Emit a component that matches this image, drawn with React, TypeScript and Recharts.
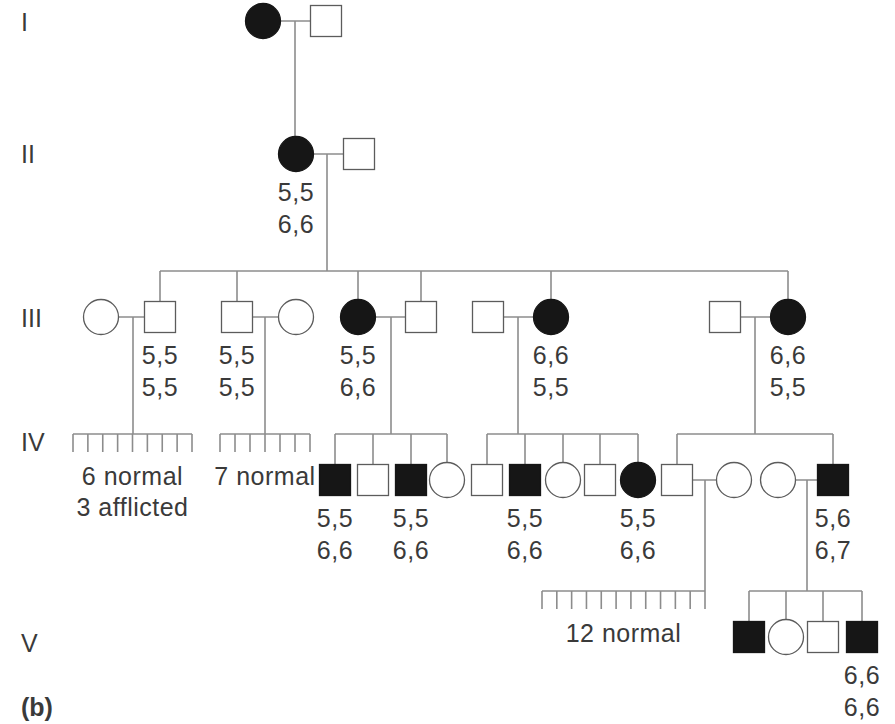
import React from 'react'
import { Scatter, ScatterChart, XAxis, YAxis } from 'recharts'

type Sex = 'F' | 'M'
interface Person {
  id: string
  gen: number
  x: number
  sex: Sex
  affected?: boolean
  typing?: string[]
}
interface Family {
  parents: [string, string]
  descentX: number
  children?: string[]
  unnamed?: { count: number; from: number; to: number; text: string[] }
}

// generation rows
const generationY = [21, 154, 317, 480, 637]
const sibshipY: (number | null)[] = [null, null, 271, 434, 591]
const rowTicks = [22, 154, 318, 442, 643, 707]
const rowLabels = ['I', 'II', 'III', 'IV', 'V', '(b)']

const people: Person[] = [
  { id: 'I-1', gen: 0, x: 263, sex: 'F', affected: true },
  { id: 'I-2', gen: 0, x: 326, sex: 'M' },
  { id: 'II-1', gen: 1, x: 296, sex: 'F', affected: true, typing: ['5,5', '6,6'] },
  { id: 'II-2', gen: 1, x: 359, sex: 'M' },
  { id: 'III-1', gen: 2, x: 101, sex: 'F' },
  { id: 'III-2', gen: 2, x: 160, sex: 'M', typing: ['5,5', '5,5'] },
  { id: 'III-3', gen: 2, x: 237, sex: 'M', typing: ['5,5', '5,5'] },
  { id: 'III-4', gen: 2, x: 296, sex: 'F' },
  { id: 'III-5', gen: 2, x: 358, sex: 'F', affected: true, typing: ['5,5', '6,6'] },
  { id: 'III-6', gen: 2, x: 421, sex: 'M' },
  { id: 'III-7', gen: 2, x: 488, sex: 'M' },
  { id: 'III-8', gen: 2, x: 551, sex: 'F', affected: true, typing: ['6,6', '5,5'] },
  { id: 'III-9', gen: 2, x: 725, sex: 'M' },
  { id: 'III-10', gen: 2, x: 788, sex: 'F', affected: true, typing: ['6,6', '5,5'] },
  { id: 'IV-1', gen: 3, x: 335, sex: 'M', affected: true, typing: ['5,5', '6,6'] },
  { id: 'IV-2', gen: 3, x: 373, sex: 'M' },
  { id: 'IV-3', gen: 3, x: 411, sex: 'M', affected: true, typing: ['5,5', '6,6'] },
  { id: 'IV-4', gen: 3, x: 447, sex: 'F' },
  { id: 'IV-5', gen: 3, x: 487, sex: 'M' },
  { id: 'IV-6', gen: 3, x: 525, sex: 'M', affected: true, typing: ['5,5', '6,6'] },
  { id: 'IV-7', gen: 3, x: 563, sex: 'F' },
  { id: 'IV-8', gen: 3, x: 600, sex: 'M' },
  { id: 'IV-9', gen: 3, x: 638, sex: 'F', affected: true, typing: ['5,5', '6,6'] },
  { id: 'IV-10', gen: 3, x: 677, sex: 'M' },
  { id: 'IV-11', gen: 3, x: 734, sex: 'F' },
  { id: 'IV-12', gen: 3, x: 778, sex: 'F' },
  { id: 'IV-13', gen: 3, x: 833, sex: 'M', affected: true, typing: ['5,6', '6,7'] },
  { id: 'V-1', gen: 4, x: 749, sex: 'M', affected: true },
  { id: 'V-2', gen: 4, x: 786, sex: 'F' },
  { id: 'V-3', gen: 4, x: 823, sex: 'M' },
  { id: 'V-4', gen: 4, x: 862, sex: 'M', affected: true, typing: ['6,6', '6,6'] },
]

const families: Family[] = [
  { parents: ['I-1', 'I-2'], descentX: 295, children: ['II-1'] },
  {
    parents: ['II-1', 'II-2'],
    descentX: 327,
    children: ['III-2', 'III-3', 'III-5', 'III-6', 'III-8', 'III-10'],
  },
  {
    parents: ['III-1', 'III-2'],
    descentX: 133,
    unnamed: { count: 9, from: 73, to: 192, text: ['6 normal', '3 afflicted'] },
  },
  {
    parents: ['III-3', 'III-4'],
    descentX: 265,
    unnamed: { count: 7, from: 220, to: 310, text: ['7 normal'] },
  },
  { parents: ['III-5', 'III-6'], descentX: 391, children: ['IV-1', 'IV-2', 'IV-3', 'IV-4'] },
  {
    parents: ['III-7', 'III-8'],
    descentX: 518,
    children: ['IV-5', 'IV-6', 'IV-7', 'IV-8', 'IV-9'],
  },
  { parents: ['III-9', 'III-10'], descentX: 755, children: ['IV-10', 'IV-13'] },
  {
    parents: ['IV-10', 'IV-11'],
    descentX: 705,
    unnamed: { count: 12, from: 542, to: 705, text: ['12 normal'] },
  },
  { parents: ['IV-12', 'IV-13'], descentX: 807, children: ['V-1', 'V-2', 'V-3', 'V-4'] },
]

const LINE = '#8c8c8c'
const OUTLINE = '#5c5c5c'
const FILL = '#161616'
const TEXT = '#3a3a3a'
const FONT = 'Liberation Sans, Arial, sans-serif'

const byId = (id: string) => people.find((p) => p.id === id) as Person

interface Seg {
  x1: number
  y1: number
  x2: number
  y2: number
}

function buildSegments(): Seg[] {
  const segs: Seg[] = []
  families.forEach((f) => {
    const a = byId(f.parents[0])
    const b = byId(f.parents[1])
    const y = generationY[a.gen]
    segs.push({ x1: a.x, y1: y, x2: b.x, y2: y })
    const cg = a.gen + 1
    const sy = sibshipY[cg]
    const childY = generationY[cg]
    if (sy == null) {
      segs.push({ x1: f.descentX, y1: y, x2: f.descentX, y2: childY })
      return
    }
    segs.push({ x1: f.descentX, y1: y, x2: f.descentX, y2: sy })
    if (f.children) {
      const xs = f.children.map((c) => byId(c).x)
      segs.push({ x1: Math.min(...xs), y1: sy, x2: Math.max(...xs), y2: sy })
      xs.forEach((cx) => segs.push({ x1: cx, y1: sy, x2: cx, y2: childY }))
    }
    if (f.unnamed) {
      const u = f.unnamed
      segs.push({ x1: u.from, y1: sy, x2: u.to, y2: sy })
      for (let i = 0; i < u.count; i++) {
        const tx = u.from + (i * (u.to - u.from)) / (u.count - 1)
        segs.push({ x1: tx, y1: sy, x2: tx, y2: sy + 18 })
      }
    }
  })
  return segs
}

const segments = buildSegments()

const persons = people.map((p) => ({ ...p, y: generationY[p.gen] }))

const groupTexts = families
  .filter((f) => f.unnamed)
  .map((f) => {
    const u = f.unnamed!
    const g = byId(f.parents[0]).gen + 1
    return { x: (u.from + u.to) / 2, y: generationY[g] - 4, lines: u.text }
  })

function PersonShape(props: any) {
  const { cx, cy, payload } = props
  const fill = payload.affected ? FILL : '#ffffff'
  const stroke = payload.affected ? FILL : OUTLINE
  return (
    <g>
      {payload.sex === 'F' ? (
        <circle cx={cx} cy={cy} r={17.5} fill={fill} stroke={stroke} strokeWidth={1.3} />
      ) : (
        <rect x={cx - 15.5} y={cy - 15.5} width={31} height={31} fill={fill} stroke={stroke} strokeWidth={1.3} />
      )}
      {(payload.typing || []).map((t: string, i: number) => (
        <text
          key={i}
          x={cx}
          y={cy + 38 + i * 32}
          textAnchor='middle'
          dominantBaseline='central'
          fontSize={25}
          fontFamily={FONT}
          fill={TEXT}
          letterSpacing={0.5}
        >
          {t}
        </text>
      ))}
    </g>
  )
}

function GroupText(props: any) {
  const { cx, cy, payload } = props
  return (
    <g>
      {payload.lines.map((t: string, i: number) => (
        <text
          key={i}
          x={cx}
          y={cy + i * 31}
          textAnchor='middle'
          dominantBaseline='central'
          fontSize={25}
          fontFamily={FONT}
          fill={TEXT}
          letterSpacing={0.5}
        >
          {t}
        </text>
      ))}
    </g>
  )
}

function RowTick(props: any) {
  const { y, payload } = props
  const i = rowTicks.indexOf(payload.value)
  const label = rowLabels[i]
  return (
    <text
      x={21}
      y={y}
      textAnchor='start'
      dominantBaseline='central'
      fontSize={25}
      fontFamily={FONT}
      fontWeight={label === '(b)' ? 'bold' : 'normal'}
      fill={TEXT}
    >
      {label}
    </text>
  )
}

const Empty = () => <g />

export default function App() {
  return (
    <div style={{ position: 'absolute', left: 0, top: 0, background: '#fff' }}>
      <ScatterChart width={895} height={724} margin={{ top: 0, right: 0, bottom: 0, left: 0 }}>
        <XAxis type='number' dataKey='x' domain={[0, 895]} hide />
        <YAxis
          type='number'
          dataKey='y'
          domain={[0, 724]}
          reversed
          mirror
          ticks={rowTicks}
          interval={0}
          axisLine={false}
          tickLine={false}
          tick={<RowTick />}
        />
        {segments.map((s, i) => (
          <Scatter
            key={`seg-${i}`}
            data={[
              { x: s.x1, y: s.y1 },
              { x: s.x2, y: s.y2 },
            ]}
            line={{ stroke: LINE, strokeWidth: 1.6 }}
            lineType='joint'
            shape={<Empty />}
            isAnimationActive={false}
          />
        ))}
        <Scatter data={groupTexts} shape={<GroupText />} isAnimationActive={false} />
        <Scatter data={persons} shape={<PersonShape />} isAnimationActive={false} />
      </ScatterChart>
    </div>
  )
}
